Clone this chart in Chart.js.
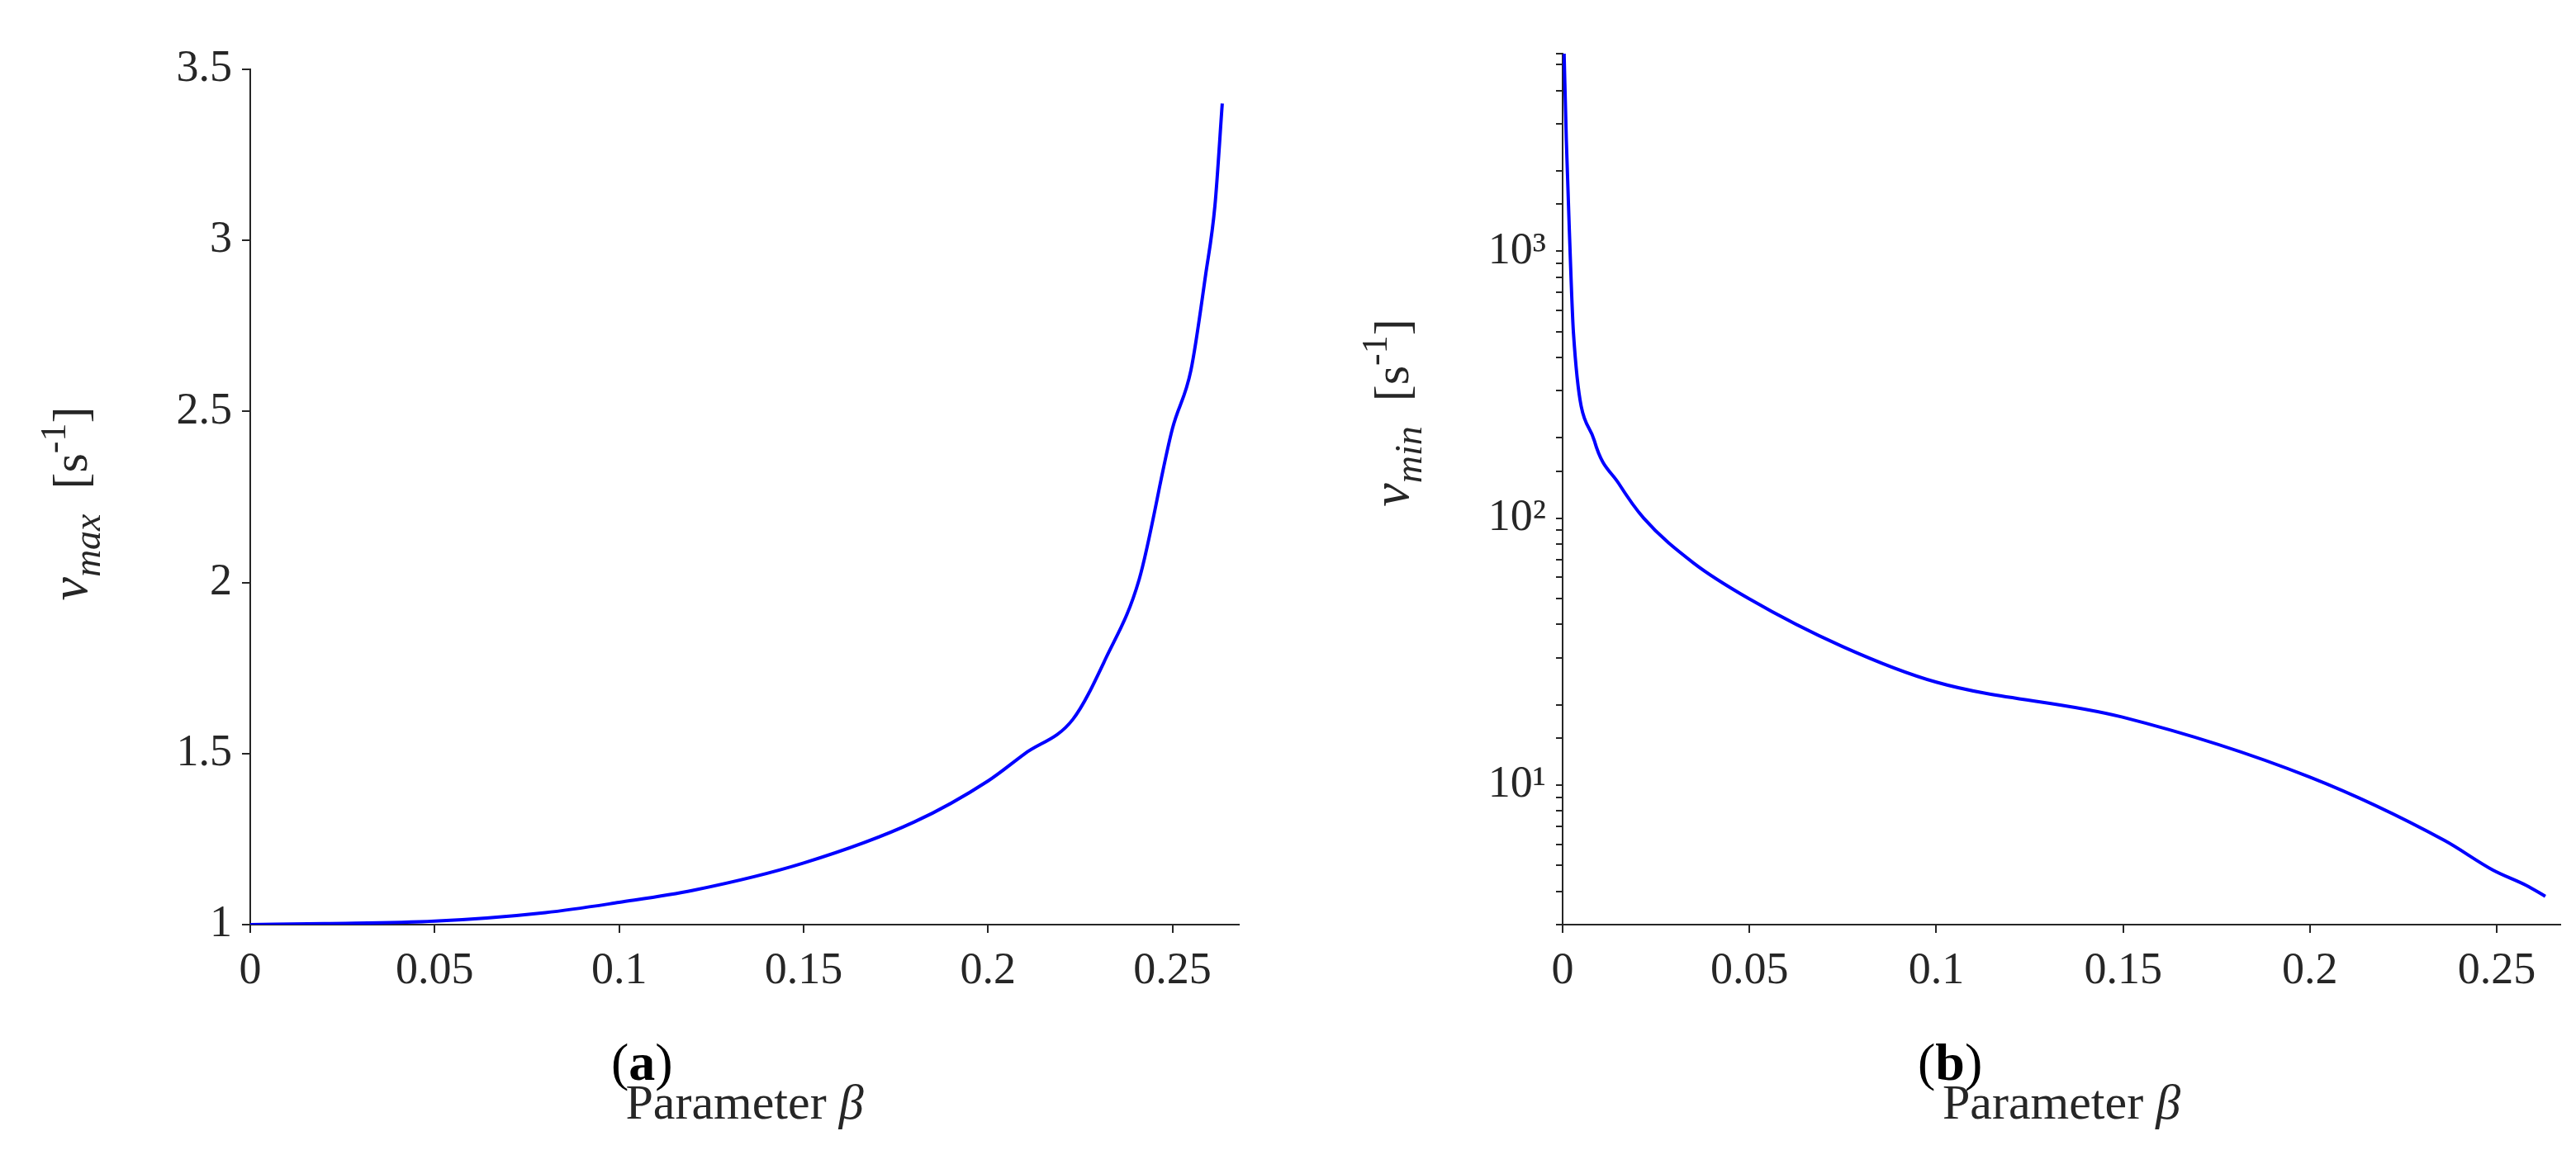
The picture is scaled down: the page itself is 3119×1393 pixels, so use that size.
<!DOCTYPE html>
<html>
<head>
<meta charset="utf-8">
<script src="https://cdn.jsdelivr.net/npm/chart.js@4.4.1/dist/chart.umd.min.js"></script>
<style>
  body { margin: 0; background: #fff; width: 3119px; height: 1393px; position: relative; overflow: hidden; }
  .panel { position: absolute; top: 0; width: 1560px; height: 1393px; }
  canvas { display: block; }
  .cap { position: absolute; top: 1250px; font-family: 'Liberation Serif', serif; font-size: 64px; color: #000; }
</style>
</head>
<body>
<div class="panel" style="left:0"><canvas id="chartA" width="1560" height="1393"></canvas></div>
<div class="panel" style="left:1560px"><canvas id="chartB" width="1559" height="1393"></canvas></div>
<div class="cap" style="left:740px">(<b>a</b>)</div>
<div class="cap" style="left:2322px">(<b>b</b>)</div>
<script>
// valeurs
const betaA = [0, 0.02, 0.05, 0.08, 0.1, 0.12, 0.15, 0.18, 0.2, 0.21, 0.223, 0.232, 0.241, 0.25, 0.255, 0.259, 0.2615, 0.2635];
const vmax  = [1, 1.003, 1.01, 1.035, 1.065, 1.1, 1.18, 1.3, 1.42, 1.5, 1.6, 1.78, 2.01, 2.45, 2.62, 2.9, 3.1, 3.4];

const betaB = [0.0004, 0.001, 0.0018, 0.0029, 0.0085, 0.015, 0.0217, 0.035, 0.0498, 0.075, 0.1, 0.1496, 0.2, 0.236, 0.249, 0.258, 0.263];
const vmin  = [5500, 2600, 1200, 495, 195, 135, 100, 68, 50, 33, 24.3, 18, 10.7, 6.2, 4.8, 4.2, 3.83];

const xTicks = [0, 0.05, 0.1, 0.15, 0.2, 0.25];
const yTicksA = [1, 1.5, 2, 2.5, 3, 3.5];

const ink = '#262626';
const serif = "'Liberation Serif', 'DejaVu Serif', serif";

Chart.defaults.animation = false;
Chart.defaults.devicePixelRatio = 1;

function pts(xs, ys) { return xs.map((x, i) => ({x: x, y: ys[i]})); }

// titres des axes dessinés à la main (indices)
function titles(sub, cx, cy) {
  return {
    id: 'titles' + sub,
    afterDraw(chart) {
      const ctx = chart.ctx;
      const a = chart.chartArea;
      ctx.save();
      ctx.fillStyle = ink;
      ctx.textBaseline = 'alphabetic';
      // titre x
      ctx.font = '60px ' + serif;
      const t = 'Parameter ';
      const w1 = ctx.measureText(t).width;
      ctx.font = 'italic 60px ' + serif;
      const w2 = ctx.measureText('β').width;
      const x0 = (a.left + a.right) / 2 - (w1 + w2) / 2;
      ctx.font = '60px ' + serif;
      ctx.fillText(t, x0, 1355);
      ctx.font = 'italic 60px ' + serif;
      ctx.fillText('β', x0 + w1, 1355);
      // titre y
      ctx.translate(cx, cy);
      ctx.rotate(-Math.PI / 2);
      const parts = [
        {s: 'v', f: 'italic 64px ' + serif, dy: 0},
        {s: sub, f: 'italic 46px ' + serif, dy: 16},
        {s: '  [s', f: '60px ' + serif, dy: 0},
        {s: '-1', f: '44px ' + serif, dy: -26},
        {s: ']', f: '60px ' + serif, dy: 0}
      ];
      let tw = 0;
      parts.forEach(p => { ctx.font = p.f; tw += ctx.measureText(p.s).width; });
      let x = -tw / 2;
      parts.forEach(p => {
        ctx.font = p.f;
        ctx.fillText(p.s, x, 20 + p.dy);
        x += ctx.measureText(p.s).width;
      });
      ctx.restore();
    }
  };
}

function xScale(max) {
  return {
    type: 'linear', min: 0, max: max,
    afterBuildTicks: s => { s.ticks = xTicks.map(v => ({value: v})); },
    afterFit: s => { s.height = 273; },
    border: {color: ink, width: 2},
    grid: {drawOnChartArea: false, color: ink, tickLength: 10, lineWidth: 2},
    ticks: {color: ink, font: {family: serif, size: 54}, padding: 14, maxRotation: 0,
      callback: v => String(v)}
  };
}

new Chart(document.getElementById('chartA'), {
  type: 'line',
  data: {datasets: [{data: pts(betaA, vmax), borderColor: '#0000ff', borderWidth: 4, pointRadius: 0, tension: 0.4, cubicInterpolationMode: 'monotone'}]},
  options: {
    responsive: false,
    layout: {padding: {top: 84, right: 60, left: 0, bottom: 0}},
    plugins: {legend: {display: false}, tooltip: {enabled: false}},
    scales: {
      x: xScale(0.268),
      y: {
        type: 'linear', min: 1, max: 3.5,
        afterBuildTicks: s => { s.ticks = yTicksA.map(v => ({value: v})); },
        afterFit: s => { s.width = 303; },
        border: {color: ink, width: 2},
        grid: {drawOnChartArea: false, color: ink, tickLength: 10, lineWidth: 2},
        ticks: {color: ink, font: {family: serif, size: 54}, padding: 12, callback: v => String(v)}
      }
    }
  },
  plugins: [titles('max', 85, 610)]
});

const sup = {1: '¹', 2: '²', 3: '³'};
new Chart(document.getElementById('chartB'), {
  type: 'line',
  data: {datasets: [{data: pts(betaB, vmin), borderColor: '#0000ff', borderWidth: 4, pointRadius: 0, tension: 0.4, cubicInterpolationMode: 'monotone'}]},
  options: {
    responsive: false,
    layout: {padding: {top: 65, right: 19, left: 0, bottom: 0}},
    plugins: {legend: {display: false}, tooltip: {enabled: false}},
    scales: {
      x: xScale(0.267),
      y: {
        type: 'logarithmic', min: 3, max: 5500,
        afterFit: s => { s.width = 332; },
        border: {color: ink, width: 2},
        grid: {drawOnChartArea: false, color: ink, tickLength: 8, lineWidth: 2},
        ticks: {color: ink, font: {family: serif, size: 54}, padding: 12, autoSkip: false,
          callback: v => {
            const e = Math.log10(v);
            return Math.abs(e - Math.round(e)) < 1e-9 && sup[Math.round(e)] ? '10' + sup[Math.round(e)] : '';
          }}
      }
    }
  },
  plugins: [titles('min', 125, 500)]
});
</script>
</body>
</html>
